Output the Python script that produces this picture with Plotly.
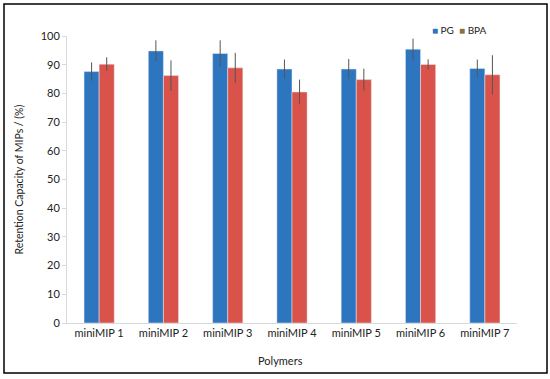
import plotly.graph_objects as go

categories = ["miniMIP 1", "miniMIP 2", "miniMIP 3", "miniMIP 4", "miniMIP 5", "miniMIP 6", "miniMIP 7"]
pg_values = [87.6, 94.8, 93.9, 88.5, 88.5, 95.4, 88.7]
pg_errors = [3.2, 3.7, 4.6, 3.3, 3.5, 3.7, 3.1]
bpa_values = [90.2, 86.2, 88.9, 80.5, 84.8, 90.1, 86.5]
bpa_errors = [2.4, 5.3, 5.2, 4.3, 3.8, 1.8, 6.8]
y_ticks = [0, 10, 20, 30, 40, 50, 60, 70, 80, 90, 100]

PG_COLOR = "#2E75BF"
BPA_COLOR = "#D9534A"
font_family = "Lato, Carlito, 'Liberation Sans', sans-serif"

fig = go.Figure()
fig.add_trace(go.Bar(
    name="PG", x=categories, y=pg_values, marker_color=PG_COLOR,
    error_y=dict(type="data", array=pg_errors, visible=True, color="#555555", thickness=1, width=0),
))
fig.add_trace(go.Bar(
    name="BPA", x=categories, y=bpa_values, marker_color=BPA_COLOR,
    error_y=dict(type="data", array=bpa_errors, visible=True, color="#555555", thickness=1, width=0),
))

legend_text = (f"<span style='color:{PG_COLOR}'>■</span> PG  "
               f"<span style='color:#8B6F47'>■</span> BPA")

fig.update_layout(
    width=550, height=379,
    margin=dict(l=67, r=33, t=36, b=56),
    paper_bgcolor="white", plot_bgcolor="white",
    barmode="group", bargap=0.53, bargroupgap=0,
    font=dict(family=font_family, size=11, color="#222222"),
    showlegend=False,
    xaxis=dict(showline=True, linecolor="#D9D9D9", linewidth=1, ticks="",
               tickfont=dict(size=11), showgrid=False),
    yaxis=dict(range=[0, 100], tickvals=y_ticks, showline=True, linecolor="#D9D9D9",
               linewidth=1, ticks="outside", ticklen=4, tickcolor="#D9D9D9",
               showgrid=False, zeroline=False, tickfont=dict(size=11)),
    annotations=[
        dict(text="Retention Capacity of MIPs / (%)", xref="paper", yref="paper",
             x=(18 - 67) / 450, y=0.5, xanchor="center", yanchor="middle",
             textangle=-90, showarrow=False, font=dict(size=10.5)),
        dict(text="Polymers", xref="paper", yref="paper",
             x=(280 - 67) / 450, y=(323 - 360) / 287, xanchor="center", yanchor="middle",
             showarrow=False, font=dict(size=11)),
        dict(text=legend_text, xref="paper", yref="paper",
             x=(430 - 67) / 450, y=(323 - 30) / 287, xanchor="left", yanchor="middle",
             showarrow=False, font=dict(size=10)),
    ],
    shapes=[
        dict(type="rect", xref="paper", yref="paper",
             x0=(4 - 67) / 450, x1=(547 - 67) / 450,
             y0=(323 - 373) / 287, y1=(323 - 4) / 287,
             line=dict(color="black", width=1.5), fillcolor="rgba(0,0,0,0)", layer="above"),
    ],
)

fig.write_html("out.html", config={"displayModeBar": False},
               post_script="document.body.style.margin='0';document.body.style.overflow='hidden';")
